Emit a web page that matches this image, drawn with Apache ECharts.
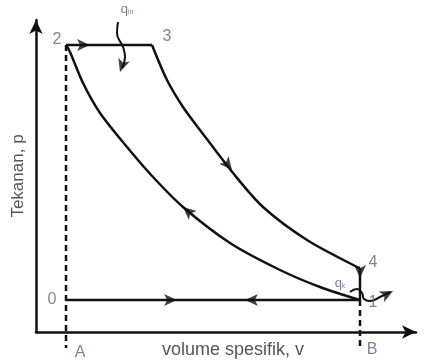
<!DOCTYPE html>
<html>
<head>
<meta charset="utf-8">
<script src="https://cdn.jsdelivr.net/npm/echarts@6/dist/echarts.min.js"></script>
<style>html,body{margin:0;padding:0;background:#fff}#c{width:425px;height:364px}</style>
</head>
<body>
<div id="c"></div>
<script>
// Data (arbitrary units: v to the right, p upward)
const process23 = [[30, 287], [116, 287]];
const process34 = [[116, 287], [131, 252], [147, 225], [164, 202], [197, 159], [227, 125], [271, 92], [321, 65], [324, 64]];
const process41 = [[324, 64], [324, 32]];
const process10 = [[324, 32], [30, 32]];
const process12 = [[324, 32], [284, 45], [244, 62], [194, 89], [147, 125], [117, 155], [91, 185], [64, 219], [47, 249], [34, 280], [30, 287]];
const dashA = [[30, 287], [30, -16]];
const dashB = [[324, 32], [324, -16]];
const heatIn = [[82, 310], [81, 299], [87, 285], [89, 275], [86, 264]];
const heatOut = [[314, 40], [321, 43], [326, 39], [328, 33], [334, 31], [344, 35], [354, 40]];
// arrowheads: [v, p, direction angle in degrees]
const arrowHeads = [[54, 287, -90], [196, 162, -141], [147, 125, 49], [141, 32, -90], [209, 32, 90], [324, 54, 180], [84, 260, 162], [357, 41, -63]];
// point labels: [v, p, text]
const pointLabels = [[21, 292, '2'], [131, 295, '3'], [337, 69, '4'], [337, 29, '1'], [16, 32, '0'], [44, -21, 'A'], [336, -18, 'B']];
const heatLabels = [[91, 323, 'in'], [304, 49, 'k']];

const chart = echarts.init(document.getElementById('c'));
const black = '#111';
function line(data, dashed, smooth, width) {
  return {
    type: 'line', data: data, showSymbol: false, symbol: 'none', clip: false, silent: true,
    smooth: smooth || false,
    lineStyle: { color: black, width: width || 2.5, type: dashed ? [6, 4] : 'solid' }, z: 3
  };
}
chart.setOption({
  animation: false,
  grid: { left: 36, right: 9, top: 20, bottom: 32 },
  xAxis: {
    type: 'value', min: 0, max: 380,
    name: 'volume spesifik, v', nameLocation: 'middle', nameGap: 9,
    nameTextStyle: { fontFamily: 'Liberation Sans', fontSize: 18, color: '#555', padding: [0, 0, 0, 14] },
    axisLine: { onZero: false, symbol: ['none', 'arrow'], symbolSize: [10, 14], lineStyle: { color: black, width: 2.5 } },
    axisTick: { show: false }, axisLabel: { show: false }, splitLine: { show: false }
  },
  yAxis: {
    type: 'value', min: 0, max: 312,
    name: 'Tekanan, p', nameLocation: 'middle', nameGap: 9,
    nameTextStyle: { fontFamily: 'Liberation Sans', fontSize: 17, color: '#555' },
    axisLine: { show: true, onZero: false, symbol: ['none', 'arrow'], symbolSize: [10, 14], lineStyle: { color: black, width: 2.5 } },
    axisTick: { show: false }, axisLabel: { show: false }, splitLine: { show: false }
  },
  series: [
    line(dashA, true), line(dashB, true),
    line(process23), line(process34, false, 0.3), line(process41), line(process10), line(process12, false, 0.3),
    line(heatIn, false, 0.5, 2),
    line(heatOut, false, 0.5, 2),
    {
      type: 'scatter', clip: false, silent: true, z: 5,
      data: arrowHeads.map(a => ({ value: [a[0], a[1]], symbolRotate: a[2] })),
      symbol: 'arrow', symbolSize: [9, 13], itemStyle: { color: black }
    },
    {
      type: 'scatter', clip: false, silent: true, z: 6, symbolSize: 0,
      data: pointLabels.map(p => ({ value: [p[0], p[1]], name: p[2] })),
      label: { show: true, position: 'inside', formatter: '{b}', fontFamily: 'Liberation Sans', fontSize: 16, color: '#5a6680' }
    },
    {
      type: 'scatter', clip: false, silent: true, z: 6, symbolSize: 0,
      data: heatLabels.map(p => ({ value: [p[0], p[1]], name: p[2] })),
      label: {
        show: true, position: 'inside', formatter: p => '{q|q}{s|' + p.name + '}',
        rich: { q: { fontFamily: 'Liberation Sans', fontSize: 13, color: '#5a6680' }, s: { fontFamily: 'Liberation Sans', fontSize: 7, color: '#5a6680', verticalAlign: 'bottom' } }
      }
    }
  ]
});
</script>
</body>
</html>
